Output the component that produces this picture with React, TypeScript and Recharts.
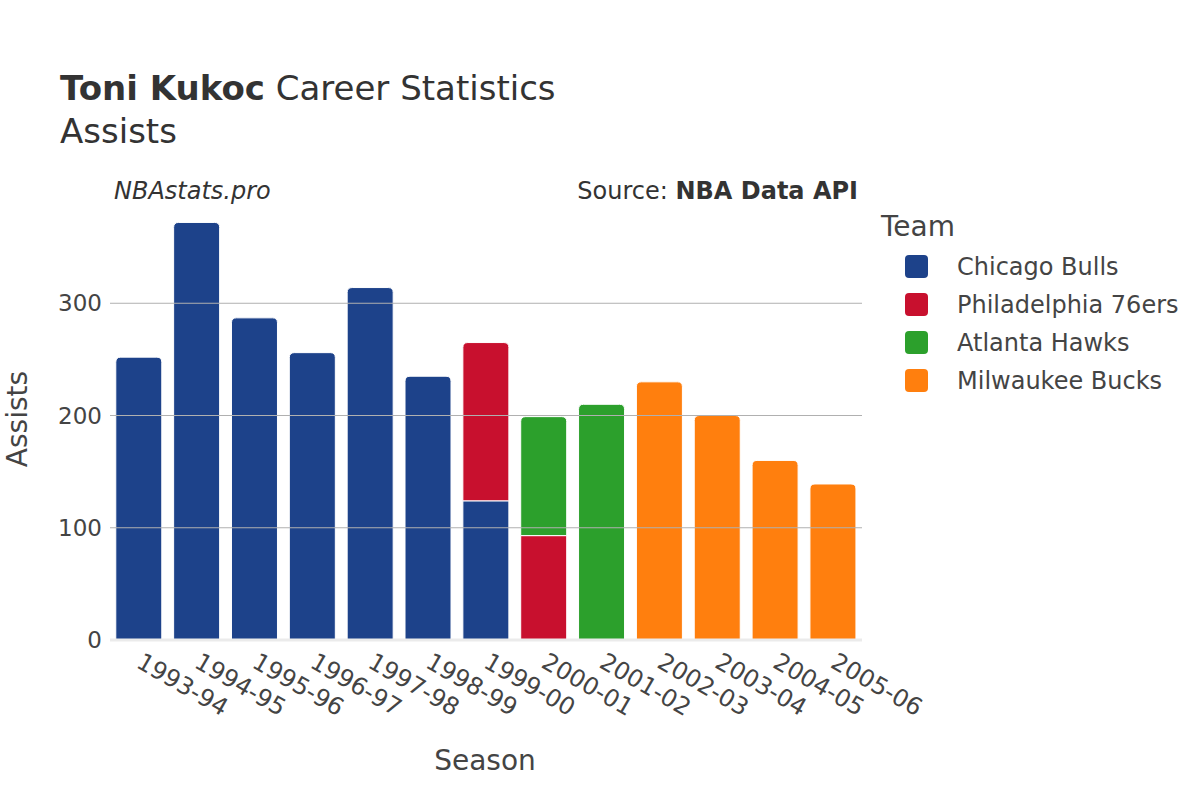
import React from 'react';
import { BarChart, Bar, XAxis, YAxis, ReferenceLine } from 'recharts';

const seasons = [
  '1993-94', '1994-95', '1995-96', '1996-97', '1997-98', '1998-99', '1999-00',
  '2000-01', '2001-02', '2002-03', '2003-04', '2004-05', '2005-06',
];
const chicagoBulls = [252, 372, 287, 256, 314, 235, 124, 0, 0, 0, 0, 0, 0];
const philadelphia76ers = [0, 0, 0, 0, 0, 0, 141, 93, 0, 0, 0, 0, 0];
const atlantaHawks = [0, 0, 0, 0, 0, 0, 0, 106, 210, 0, 0, 0, 0];
const milwaukeeBucks = [0, 0, 0, 0, 0, 0, 0, 0, 0, 230, 200, 160, 139];
const yTicks = [0, 100, 200, 300];
const gridValues = [100, 200, 300];

const teams = [
  { key: 'Chicago Bulls', values: chicagoBulls, color: '#1d428a' },
  { key: 'Philadelphia 76ers', values: philadelphia76ers, color: '#c8102e' },
  { key: 'Atlanta Hawks', values: atlantaHawks, color: '#2ca02c' },
  { key: 'Milwaukee Bucks', values: milwaukeeBucks, color: '#ff7f0e' },
];

const data = seasons.map((season, i) => {
  const row: Record<string, any> = { season };
  teams.forEach(t => { row[t.key] = t.values[i]; });
  return row;
});

// which team sits on top of each stack (gets the rounded corners)
const topTeam = seasons.map((_, i) => {
  let top = '';
  teams.forEach(t => { if (t.values[i] > 0) top = t.key; });
  return top;
});

const FONT = '"DejaVu Sans", Verdana, sans-serif';

const makeShape = (key: string, color: string) => (props: any) => {
  const { x, y, width, height, index } = props;
  if (!height || height <= 0) return null;
  const r = topTeam[index] === key ? Math.min(5, height) : 0;
  const d = `M${x},${y + height} L${x},${y + r} Q${x},${y} ${x + r},${y} L${x + width - r},${y} Q${x + width},${y} ${x + width},${y + r} L${x + width},${y + height} Z`;
  return <path d={d} fill={color} stroke="#ffffff" strokeWidth={1} />;
};

const XTick = (props: any) => {
  const { x, y, payload } = props;
  return (
    <text x={x} y={y} transform={`rotate(30 ${x} ${y})`} dx={6} dy={18}
      fontFamily={FONT} fontSize={24} fill="#444" textAnchor="start">
      {payload.value}
    </text>
  );
};

export default function App() {
  return (
    <div style={{ position: 'absolute', left: 0, top: 0, width: 1200, height: 800, background: '#fff' }}>
      <BarChart width={1200} height={800} data={data} barCategoryGap="10%"
        margin={{ top: 200, right: 338, left: 60, bottom: 100 }}>
        {gridValues.map(v => (
          <ReferenceLine key={v} y={v} stroke="#b0b0b0" strokeWidth={1} />
        ))}
        <XAxis dataKey="season" height={60} interval={0} tick={<XTick />} tickLine={false}
          axisLine={{ stroke: '#ebebeb', strokeWidth: 3 }} />
        <YAxis width={50} domain={[0, 392]} ticks={yTicks} tickLine={false} axisLine={false}
          tick={{ fontFamily: FONT, fontSize: 23, fill: '#444' }} tickMargin={2} />
        {teams.map(t => (
          <Bar key={t.key} dataKey={t.key} stackId="a" fill={t.color}
            shape={makeShape(t.key, t.color)} isAnimationActive={false} />
        ))}
      </BarChart>
      <svg width={1200} height={800} style={{ position: 'absolute', left: 0, top: 0, pointerEvents: 'none' }}
        fontFamily={FONT}>
        <text x={60} y={100} fontSize={34} fill="#333">
          <tspan fontWeight="bold">Toni Kukoc</tspan> Career Statistics
        </text>
        <text x={60} y={143} fontSize={34} fill="#333">Assists</text>
        <text x={114} y={199} fontSize={24} fontStyle="italic" fill="#333">NBAstats.pro</text>
        <text x={858} y={199} fontSize={24} fill="#333" textAnchor="end">
          Source: <tspan fontWeight="bold">NBA Data API</tspan>
        </text>
        <text x={17} y={419} fontSize={28} fill="#444" textAnchor="middle" transform="rotate(-90 17 419)" dy={10}>Assists</text>
        <text x={485} y={770} fontSize={28} fill="#444" textAnchor="middle">Season</text>
        <text x={881} y={236} fontSize={28} fill="#444">Team</text>
        {teams.map((t, i) => (
          <g key={t.key}>
            <rect x={905} y={255 + i * 38} width={23} height={23} rx={4} fill={t.color} />
            <text x={957} y={275 + i * 38} fontSize={24} fill="#444">{t.key}</text>
          </g>
        ))}
      </svg>
    </div>
  );
}
